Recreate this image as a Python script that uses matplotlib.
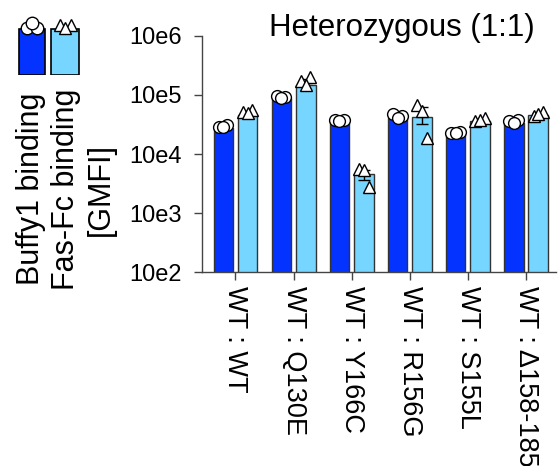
"""
Heterozygous (1:1) binding bar chart: Buffy1 vs Fas-Fc binding (GMFI),
bars = mean, symbols = individual replicates.
"""

import numpy as np
import matplotlib
matplotlib.use("Agg")
import matplotlib.pyplot as plt

plt.rcParams["font.family"] = ["Liberation Sans", "DejaVu Sans"]

# ── Data ─────────────────────────────────────────────────────────────────────

genotypes = ["WT : WT", "WT : Q130E", "WT : Y166C",
             "WT : R156G", "WT : S155L", "WT : \u0394158-185"]

buffy_mean = [28000, 88000, 36000, 40000, 21500, 33000]
fas_mean = [45000, 150000, 4600, 42000, 36000, 46000]

buffy_reps = [
    [29000, 31000, 28500],
    [95000, 92000, 90000],
    [37000, 38000, 36500],
    [47000, 44000, 41000],
    [23000, 23500, 22500],
    [36000, 37000, 34000],
]
fas_reps = [
    [52000, 55000, 50000],
    [170000, 200000, 150000],
    [5500, 2800, 5400],
    [68000, 18500, 54000],
    [36000, 41000, 38000],
    [44000, 52000, 47000],
]

ytick_vals = [1e2, 1e3, 1e4, 1e5, 1e6]
ytick_labels = ["10e2", "10e3", "10e4", "10e5", "10e6"]

# ── Style ────────────────────────────────────────────────────────────────────

DARK = "#0433FF"
LIGHT = "#76D6FF"
EDGE = "#333333"
OFF = 0.21
WIDTH = 0.335
JIT_C = [-0.08, 0.07, 0.0]
JIT_T = [-0.08, 0.08, 0.0]
MS = 8.5

fig = plt.figure(figsize=(5.59, 4.66), dpi=100)
ax = fig.add_axes([0.362, 0.416, 0.633, 0.507])

x = np.arange(len(genotypes))

ax.bar(x - OFF, buffy_mean, width=WIDTH, color=DARK, edgecolor=EDGE,
       linewidth=1.0, zorder=2)
ax.bar(x + OFF, fas_mean, width=WIDTH, color=LIGHT, edgecolor=EDGE,
       linewidth=1.0, zorder=2)

for i in range(len(genotypes)):
    for reps, off, jit, mk in ((buffy_reps[i], -OFF, JIT_C, "o"),
                               (fas_reps[i], OFF, JIT_T, "^")):
        r = np.array(reps, dtype=float)
        sem = r.std(ddof=1) / np.sqrt(len(r))
        ax.errorbar(x[i] + off, np.mean(r), yerr=sem, fmt="none",
                    ecolor="black", elinewidth=1.0, capsize=4.5, capthick=1.0,
                    zorder=3)
        ax.plot(x[i] + off + np.array(jit), r, linestyle="none", marker=mk,
                markersize=MS, markerfacecolor="white",
                markeredgecolor="black", markeredgewidth=1.0, zorder=4)

ax.set_yscale("log")
ax.set_ylim(1e2, 1e6)
ax.set_yticks(ytick_vals)
ax.set_yticklabels(ytick_labels)
ax.yaxis.set_minor_locator(matplotlib.ticker.NullLocator())
ax.set_xlim(-0.57, 5.52)
ax.set_xticks(x)
ax.set_xticklabels(genotypes, rotation=270, va="top", ha="center")

for side in ("top", "right"):
    ax.spines[side].set_visible(False)
for side in ("left", "bottom"):
    ax.spines[side].set_color("#444444")
    ax.spines[side].set_linewidth(1.0)
ax.tick_params(axis="y", direction="out", length=6, width=1.0,
               color="#444444", labelsize=17, pad=9)
ax.tick_params(axis="x", direction="out", length=6, width=1.0,
               color="#444444", labelsize=19.5, pad=4)

fig.text(0.719, 0.94, "Heterozygous (1:1)", ha="center", va="center",
         fontsize=22.5)

fig.text(0.118, 0.594, "Buffy1 binding\nFas-Fc binding\n[GMFI]",
         rotation=90, ha="center", va="center", multialignment="center",
         fontsize=22, linespacing=1.2)

# ── Legend icons (mini bars with symbols) ───────────────────────────────────
lg = fig.add_axes([0.028, 0.84, 0.117, 0.1])
lg.bar([0], [1], width=0.8, color=DARK, edgecolor="black", linewidth=1.2)
lg.bar([1], [1], width=0.85, color=LIGHT, edgecolor="black", linewidth=1.2)
lg.plot([-0.15, 0.15, 0.0], [1.03, 1.03, 1.14], linestyle="none", marker="o",
        markersize=9, markerfacecolor="white", markeredgecolor="black",
        markeredgewidth=1.0, clip_on=False)
lg.plot([0.85, 1.2, 1.02], [1.1, 1.1, 1.03], linestyle="none", marker="^",
        markersize=9, markerfacecolor="white", markeredgecolor="black",
        markeredgewidth=1.0, clip_on=False)
lg.set_xlim(-0.5, 1.5)
lg.set_ylim(0, 1.03)
lg.axis("off")

fig.savefig("out.png", dpi=100)
